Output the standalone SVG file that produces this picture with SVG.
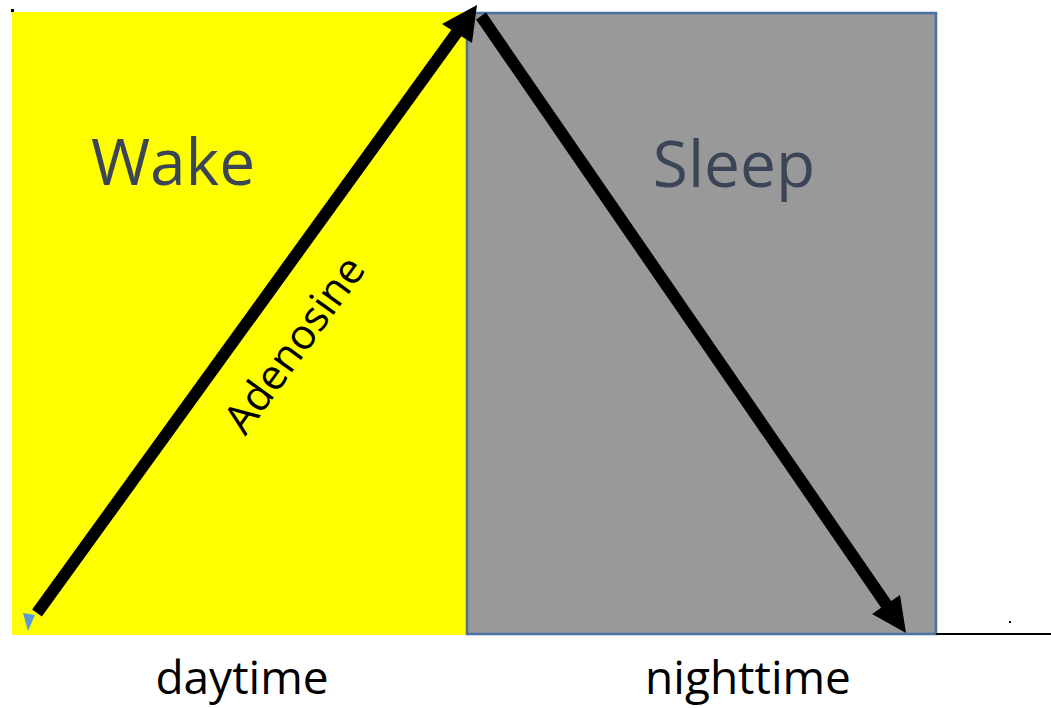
<svg xmlns="http://www.w3.org/2000/svg" width="1051" height="708" viewBox="0 0 1051 708">
<style>
.big{font-family:"Open Sans","Noto Sans",sans-serif;font-size:64px;fill:#3b4556;text-anchor:middle}
.lbl{font-family:"Open Sans","Noto Sans",sans-serif;font-size:46px;fill:#000;text-anchor:middle}
.arr{stroke:#000;stroke-width:12;fill:none}
</style>
<rect width="1051" height="708" fill="#fff"/>
<g id="wake">
<rect x="12" y="12" width="454" height="623" fill="#ffff00"/>
<text class="big" x="173" y="185">Wake</text>
</g>
<g id="sleep">
<rect x="467" y="13" width="469" height="621" fill="#999999" stroke="#4a72a0" stroke-width="2.5"/>
<text class="big" x="734" y="187">Sleep</text>
</g>
<line x1="936" y1="634" x2="1051" y2="634" stroke="#000" stroke-width="2"/>
<rect x="1009" y="621" width="2" height="2" fill="#000"/>
<rect x="11" y="9" width="3" height="3" fill="#000"/>
<g id="connectors">
<line class="arr" x1="37" y1="613" x2="460" y2="28"/>
<polygon points="477,5 442,24 472,43" fill="#000"/>
<polygon points="23,613 35,615 28,631" fill="#5b9bd5"/>
<line class="arr" x1="481" y1="16" x2="888" y2="607"/>
<polygon points="906,633 872,614 900,595" fill="#000"/>
<text class="lbl" x="0" y="0" style="font-size:42px" transform="translate(306,353) rotate(-54)">Adenosine</text>
</g>
<text class="lbl" x="242" y="694">daytime</text>
<text class="lbl" x="748" y="694">nighttime</text>
</svg>
